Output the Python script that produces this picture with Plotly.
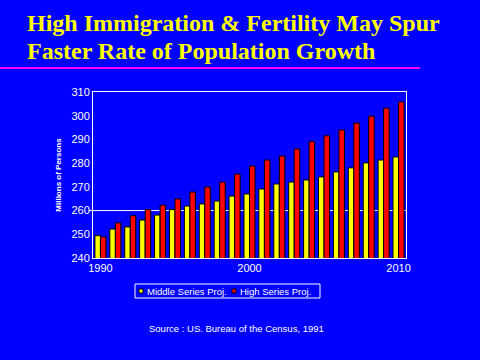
import plotly.graph_objects as go

years = list(range(1990, 2011))
middle = [249.4, 252.2, 253.1, 256.0, 258.1, 260.4, 261.9, 262.8, 264.0, 266.1, 267.0,
          269.1, 271.2, 272.0, 272.9, 274.2, 276.3, 278.0, 280.1, 281.3, 282.6]
high = [248.9, 254.8, 257.8, 260.4, 262.3, 264.9, 267.8, 269.9, 272.0, 275.4, 278.8,
        281.3, 283.0, 286.0, 289.1, 291.5, 294.0, 296.9, 299.8, 303.2, 305.8]
series_names = ["Middle Series Proj.", "High Series Proj."]
series_colors = ["#FFFF00", "#FF0000"]
y_ticks = [240, 250, 260, 270, 280, 290, 300, 310]
x_ticks = [1990, 2000, 2010]
title_lines = ["High Immigration &amp; Fertility May Spur", "Faster Rate of Population Growth"]
source_text = "Source : US. Bureau of the Census, 1991"

BG = "#0000FF"
W, H = 480, 360
ML, MR, MT, MB = 93, 74, 92, 102
PW = W - ML - MR
PH = H - MT - MB

def px_x(x):
    return (x - ML) / PW

def px_y(y):
    return (H - MB - y) / PH

fig = go.Figure()
for vals, name, col in zip([middle, high], series_names, series_colors):
    fig.add_trace(go.Bar(x=years, y=vals, name=name, showlegend=False,
                         marker=dict(color=col, line=dict(color="black", width=1))))

fig.update_layout(
    width=W, height=H,
    margin=dict(l=ML, r=MR, t=MT, b=MB),
    paper_bgcolor=BG, plot_bgcolor=BG,
    barmode="group", bargap=0.26, bargroupgap=0,
    font=dict(family="Liberation Sans, Arial", color="white", size=11),
    showlegend=False,
    xaxis=dict(range=[1989.5, 2010.5], tickvals=x_ticks, showgrid=False, zeroline=False,
               showline=True, linecolor="white", linewidth=1, mirror=True,
               tickfont=dict(size=11, color="white"), ticks=""),
    yaxis=dict(range=[240, 310], tickvals=y_ticks, showgrid=False, zeroline=False,
               showline=True, linecolor="white", linewidth=1, mirror=True,
               ticks="", tickfont=dict(size=11, color="white"),
               title=dict(text="<b>Millions of Persons</b>", font=dict(size=8, color="white"),
                          standoff=8)),
)

# single gridline at 260
fig.add_shape(type="line", xref="paper", yref="y", x0=px_x(89), x1=1, y0=260, y1=260,
              line=dict(color="white", width=1), layer="below")

# title (two lines)
for i, line in enumerate(title_lines):
    fig.add_annotation(text="<b>" + line + "</b>",
                       xref="paper", yref="paper", x=px_x(25), y=px_y(23 + 28 * i),
                       xanchor="left", yanchor="middle", align="left", showarrow=False,
                       font=dict(family="Liberation Serif, Times New Roman", size=24, color="#FFFF00"))
# magenta rule
fig.add_shape(type="line", xref="paper", yref="paper", x0=px_x(0), x1=px_x(420),
              y0=px_y(68), y1=px_y(68), line=dict(color="#FF00FF", width=2))

# legend (compact, drawn manually)
fig.add_shape(type="rect", xref="paper", yref="paper", x0=px_x(135), x1=px_x(320),
              y0=px_y(284), y1=px_y(298), line=dict(color="white", width=1), fillcolor=BG)
legend_x = [139, 232]
for lx, name, col in zip(legend_x, series_names, series_colors):
    fig.add_shape(type="rect", xref="paper", yref="paper", x0=px_x(lx), x1=px_x(lx + 4),
                  y0=px_y(289), y1=px_y(293), line=dict(color="black", width=1), fillcolor=col)
    fig.add_annotation(text=name, xref="paper", yref="paper", x=px_x(lx + 6), y=px_y(291),
                       xanchor="left", yanchor="middle", showarrow=False,
                       font=dict(size=9.5, color="white"))

# source
fig.add_annotation(text=source_text, xref="paper", yref="paper",
                   x=px_x(236), y=px_y(328), xanchor="center", yanchor="middle", showarrow=False,
                   font=dict(size=9.5, color="white"))

fig.write_html("out.html", config={"displayModeBar": False},
               post_script="document.body.style.margin='0';document.body.style.background='#0000FF';"
                           "document.documentElement.style.background='#0000FF';")
